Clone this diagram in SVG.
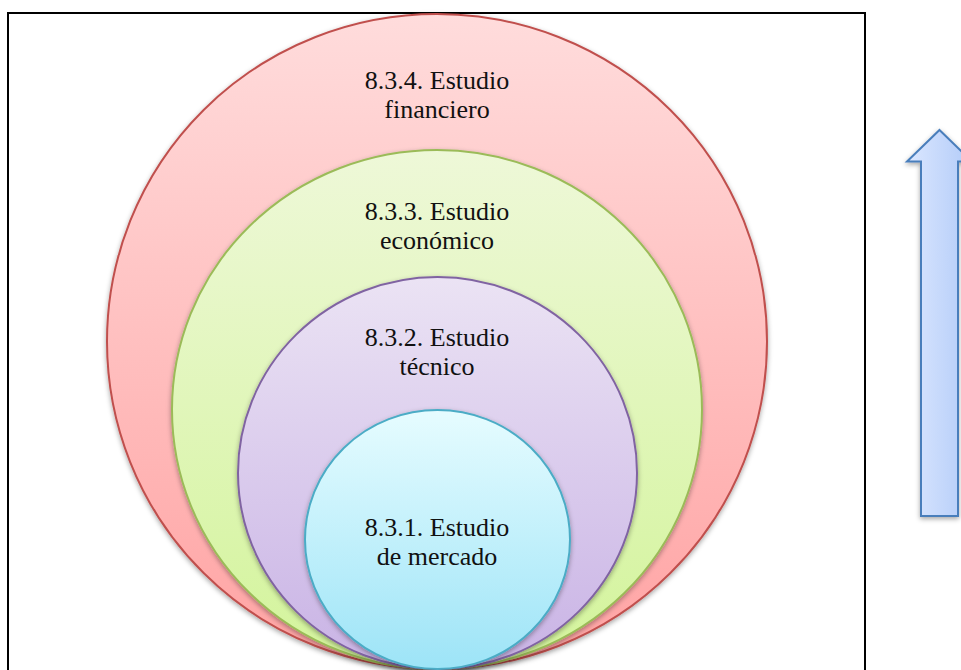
<svg xmlns="http://www.w3.org/2000/svg" width="961" height="670" viewBox="0 0 961 670">
  <defs>
    <linearGradient id="gRed" x1="0" y1="0" x2="0" y2="1">
      <stop offset="0" stop-color="#ffdcdc"/>
      <stop offset="1" stop-color="#ffa3a3"/>
    </linearGradient>
    <linearGradient id="gGreen" x1="0" y1="0" x2="0" y2="1">
      <stop offset="0" stop-color="#eef8d8"/>
      <stop offset="1" stop-color="#d3f49b"/>
    </linearGradient>
    <linearGradient id="gPurple" x1="0" y1="0" x2="0" y2="1">
      <stop offset="0" stop-color="#ebe3f4"/>
      <stop offset="1" stop-color="#c9b3e5"/>
    </linearGradient>
    <linearGradient id="gBlue" x1="0" y1="0" x2="0" y2="1">
      <stop offset="0" stop-color="#e6fcff"/>
      <stop offset="1" stop-color="#9de4f7"/>
    </linearGradient>
    <linearGradient id="gArrow" x1="0" y1="0" x2="1" y2="0">
      <stop offset="0" stop-color="#dbe7ff"/>
      <stop offset="1" stop-color="#b2cbf8"/>
    </linearGradient>
    <filter id="shadow" x="-10%" y="-10%" width="120%" height="125%">
      <feDropShadow dx="0" dy="2" stdDeviation="2.5" flood-color="#000" flood-opacity="0.35"/>
    </filter>
  </defs>
  <style>
    .lbl { font-family: "Liberation Serif", "Times New Roman", serif; font-size: 26px; fill: #111; text-anchor: middle; }
    .ring { stroke-width: 2; filter: url(#shadow); }
  </style>

  <rect width="961" height="670" fill="#fff"/>
  <!-- frame -->
  <rect x="8" y="13" width="857" height="670" fill="none" stroke="#000" stroke-width="2"/>

  <g id="financiero">
    <ellipse class="ring" cx="437" cy="341.5" rx="330" ry="327.5" fill="url(#gRed)" stroke="#c0504d"/>
    <text class="lbl" x="437" y="89">8.3.4. Estudio</text>
    <text class="lbl" x="437" y="118">financiero</text>
  </g>

  <g id="economico">
    <ellipse class="ring" cx="437" cy="409.5" rx="265" ry="259.5" fill="url(#gGreen)" stroke="#9bbb59"/>
    <text class="lbl" x="437" y="220">8.3.3. Estudio</text>
    <text class="lbl" x="437" y="249">económico</text>
  </g>

  <g id="tecnico">
    <ellipse class="ring" cx="437.5" cy="473" rx="199.5" ry="196" fill="url(#gPurple)" stroke="#8064a2"/>
    <text class="lbl" x="437" y="346">8.3.2. Estudio</text>
    <text class="lbl" x="437" y="375">técnico</text>
  </g>

  <g id="mercado">
    <ellipse class="ring" cx="437.5" cy="539.5" rx="132.5" ry="129.5" fill="url(#gBlue)" stroke="#4bacc6"/>
    <text class="lbl" x="437" y="536">8.3.1. Estudio</text>
    <text class="lbl" x="437" y="565">de mercado</text>
  </g>

  <g id="connectors">
    <path id="arrow-up" d="M939.5,130 L972,161.5 L958,161.5 L958,516 L921,516 L921,161.5 L907,161.5 Z"
          fill="url(#gArrow)" stroke="#4a7ebb" stroke-width="2" stroke-linejoin="miter" filter="url(#shadow)"/>
  </g>
</svg>
